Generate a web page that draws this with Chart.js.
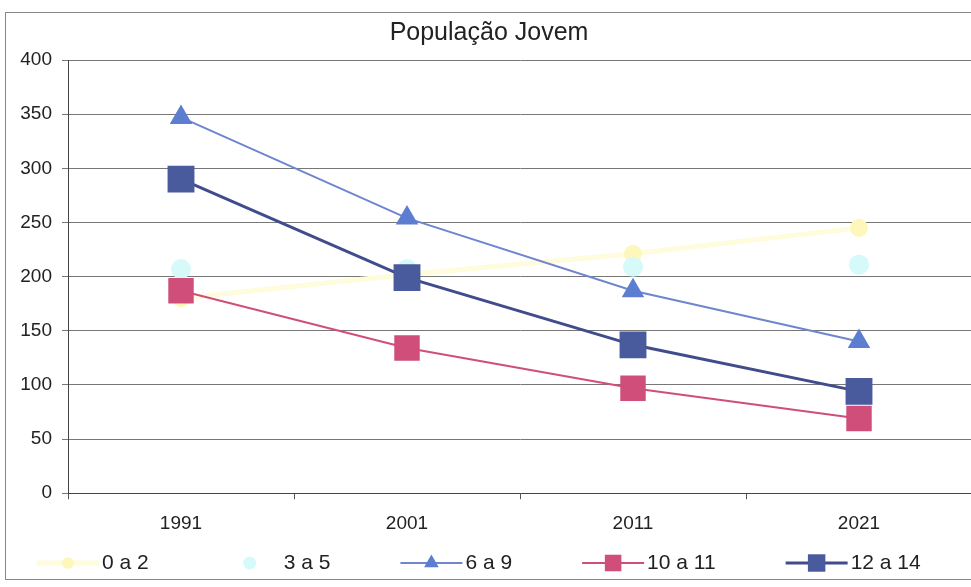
<!DOCTYPE html>
<html>
<head>
<meta charset="utf-8">
<script src="https://cdn.jsdelivr.net/npm/chart.js@4"></script>
<style>
  body { margin: 0; background: #fff; }
  #wrap { position: absolute; left: 5px; top: 12px; width: 966px; height: 566px; border-left: 1px solid #888; border-top: 1px solid #888; border-bottom: 1px solid #888; }
</style>
</head>
<body>
<div id="wrap"><canvas id="chart"></canvas></div>
<script>
// anos e grupos etários
const anos = ["1991", "2001", "2011", "2021"];
const idade0a2 = [180, 202, 221, 245];
const idade3a5 = [207, 207, 209, 211];
const idade6a9 = [347, 254, 187, 140];
const idade10a11 = [187, 134, 97, 69];
const idade12a14 = [290, 199, 137, 94];

const FONT = 'Liberation Sans';

// legenda estilo Excel: linha + marcador + texto
const legendaExcel = {
    id: 'legendaExcel',
    afterDraw(chart) {
        const c = chart.ctx;
        const y = chart.height - 16;
        let x = 31;
        c.save();
        c.font = '21px ' + FONT;
        c.textBaseline = 'middle';
        chart.data.datasets.forEach(ds => {
            if (ds.borderWidth > 0) {
                c.strokeStyle = ds.borderColor;
                c.lineWidth = ds.borderWidth;
                c.beginPath(); c.moveTo(x, y); c.lineTo(x + 62, y); c.stroke();
            }
            c.fillStyle = ds.backgroundColor;
            Chart.helpers.drawPoint(c, { pointStyle: ds.pointStyle, radius: ds.pointRadius * 0.65, borderWidth: 0 }, x + 31, y);
            c.fillStyle = '#222';
            c.fillText(ds.label, x + 65, y);
            x += 65 + c.measureText(ds.label).width + 70;
        });
        c.restore();
    }
};

const ctx = document.getElementById('chart').getContext('2d');
new Chart(ctx, {
    type: 'line',
    data: {
        labels: anos,
        datasets: [
            { label: '0 a 2', data: idade0a2, borderColor: '#fefcdc', backgroundColor: '#fdf7bc',
              borderWidth: 5, pointStyle: 'circle', pointRadius: 9, pointBorderWidth: 0, order: 5 },
            { label: '3 a 5', data: idade3a5, borderColor: 'rgba(215,250,250,0)', backgroundColor: '#d6f9f9',
              borderWidth: 0, pointStyle: 'circle', pointRadius: 10, pointBorderWidth: 0, order: 4 },
            { label: '6 a 9', data: idade6a9, borderColor: '#6f86cf', backgroundColor: '#5d7dd0',
              borderWidth: 2, pointStyle: 'triangle', pointRadius: 13, pointBorderWidth: 0, order: 3 },
            { label: '10 a 11', data: idade10a11, borderColor: '#d04f78', backgroundColor: '#cf4f7a',
              borderWidth: 2, pointStyle: 'rect', pointRadius: 18, pointBorderWidth: 0, order: 2 },
            { label: '12 a 14', data: idade12a14, borderColor: '#404c8c', backgroundColor: '#4a5b9d',
              borderWidth: 3, pointStyle: 'rect', pointRadius: 19, pointBorderWidth: 0, order: 1 }
        ]
    },
    options: {
        responsive: true,
        maintainAspectRatio: false,
        animation: false,
        layout: { autoPadding: false, padding: { left: 0, right: 0, top: 0, bottom: 31 } },
        plugins: {
            title: {
                display: true, text: 'População Jovem', color: '#222',
                font: { family: FONT, size: 25, weight: 'normal' },
                padding: { top: 5, bottom: 12 }
            },
            legend: { display: false },
            tooltip: { enabled: false }
        },
        scales: {
            x: {
                offset: true,
                grid: { display: true, drawOnChartArea: false, drawTicks: true, tickLength: 6, color: '#555', offset: true },
                border: { color: '#444', width: 1 },
                ticks: { color: '#222', padding: 13, font: { family: FONT, size: 19 } }
            },
            y: {
                min: 0, max: 400,
                afterFit(scale) { scale.width = 62; },
                ticks: { stepSize: 50, color: '#222', padding: 10, font: { family: FONT, size: 19 } },
                grid: { color: '#777', lineWidth: 1, tickLength: 6 },
                border: { color: '#444', width: 1 }
            }
        }
    },
    plugins: [legendaExcel]
});
</script>
</body>
</html>
